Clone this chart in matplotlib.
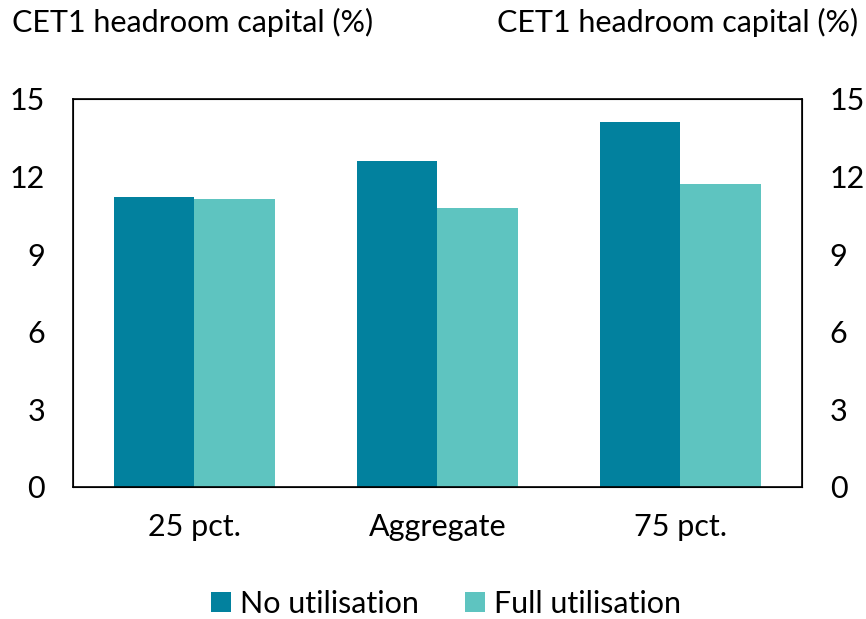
import numpy as np
import matplotlib.pyplot as plt

plt.rcParams['font.family'] = ['Lato', 'DejaVu Sans']

categories = ['25 pct.', 'Aggregate', '75 pct.']
no_util = [11.22, 12.60, 14.11]
full_util = [11.13, 10.79, 11.71]
yticks = [0, 3, 6, 9, 12, 15]

dark = '#02819e'
light = '#5ec4c0'

fig = plt.figure(figsize=(8.66, 6.19), dpi=100)
ax = fig.add_axes([73/866, 1 - 487/619, 729/866, 388/619])

x = np.arange(len(categories))
w = 0.33
ax.bar(x - w/2, no_util, w, color=dark, label='No utilisation')
ax.bar(x + w/2, full_util, w, color=light, label='Full utilisation')

ax.set_xlim(-0.5, 2.5)
ax.set_ylim(0, 15)
ax.set_xticks(x)
ax.set_xticklabels(categories)
ax.set_yticks(yticks)
ax.tick_params(axis='x', length=0, labelsize=22, pad=19)
ax.tick_params(axis='y', length=0, labelsize=22, pad=20)
for s in ax.spines.values():
    s.set_color('black')
    s.set_linewidth(1.2)

ax2 = ax.twinx()
ax2.set_ylim(0, 15)
ax2.set_yticks(yticks)
ax2.tick_params(axis='y', length=0, labelsize=22, pad=20)

fig.text(12/866, 1 - 22/619, 'CET1 headroom capital (%)', fontsize=22, va='center', ha='left')
fig.text(858/866, 1 - 22/619, 'CET1 headroom capital (%)', fontsize=22, va='center', ha='right')

fig.legend(loc='center', bbox_to_anchor=(446/866, 1 - 604/619), ncol=2, frameon=False,
           fontsize=22, handlelength=0.65, handleheight=0.65, handletextpad=0.3, columnspacing=1.5)

fig.savefig('out.png', dpi=100)
